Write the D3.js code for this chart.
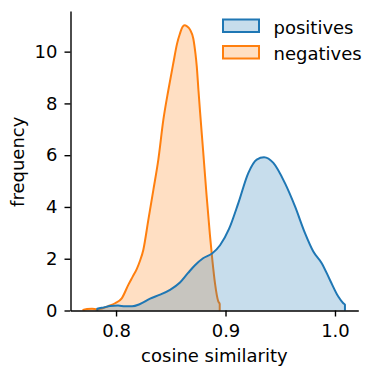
<!DOCTYPE html>
<html>
<head>
<meta charset="utf-8">
<script src="https://cdn.jsdelivr.net/npm/d3@7"></script>
<style>
  html, body { margin: 0; padding: 0; background: #fff; }
  svg { display: block; }
  text { font-family: "DejaVu Sans", sans-serif; fill: #000; }
</style>
</head>
<body>
<svg id="chart" width="373" height="371"></svg>
<script>
// ---- data ----
const seriesNames = ["positives", "negatives"];
const seriesColors = ["#1f77b4", "#ff7f0e"];

const positivesX = [0.7829, 0.7890, 0.7945, 0.8018, 0.8082, 0.8146, 0.8219, 0.8311, 0.8402, 0.8493,
  0.8584, 0.8658, 0.8721, 0.8795, 0.8877, 0.8950, 0.9032, 0.9117, 0.9208, 0.9285,
  0.9352, 0.9437, 0.9543, 0.9635, 0.9726, 0.9802, 0.9879, 0.9954, 1.0030, 1.0076, 1.0091];
const positivesY = [0.07, 0.12, 0.17, 0.19, 0.16, 0.16, 0.25, 0.46, 0.61, 0.80,
  1.08, 1.45, 1.75, 2.02, 2.20, 2.52, 3.15, 4.15, 5.31, 5.83,
  5.92, 5.70, 4.92, 4.02, 2.99, 2.28, 1.83, 1.18, 0.54, 0.28, 0.22];

const negativesX = [0.7701, 0.7735, 0.7781, 0.7826, 0.7872, 0.7930, 0.7991, 0.8052, 0.8112, 0.8151,
  0.8189, 0.8219, 0.8249, 0.8295, 0.8341, 0.8386, 0.8432, 0.8478, 0.8523, 0.8557,
  0.8584, 0.8607, 0.8626, 0.8648, 0.8676, 0.8706, 0.8726, 0.8737, 0.8753, 0.8767,
  0.8795, 0.8826, 0.8858, 0.8881, 0.8904, 0.8934, 0.8947];
const negativesY = [0.02, 0.06, 0.07, 0.05, 0.08, 0.17, 0.28, 0.47, 0.99, 1.30,
  1.60, 1.92, 2.34, 3.50, 4.66, 5.82, 7.36, 8.52, 9.55, 10.30,
  10.70, 10.95, 11.02, 10.98, 10.85, 10.50, 9.90, 9.45, 8.50, 7.70,
  6.20, 4.50, 2.90, 1.90, 1.05, 0.35, 0.25];

const xTicks = [0.8, 0.9, 1.0];
const yTicks = [0, 2, 4, 6, 8, 10];
const xLabel = "cosine similarity";
const yLabel = "frequency";

// ---- layout ----
const svg = d3.select("#chart");
const plotLeft = 70.5, plotRight = 358.3, plotTop = 11, plotBottom = 310.5;

const x = d3.scaleLinear().domain([0.7584, 1.0213]).range([plotLeft, plotRight]);
const y = d3.scaleLinear().domain([0, 11.57]).range([plotBottom, plotTop]);

const series = [
  { name: seriesNames[0], color: seriesColors[0], pts: positivesX.map((v, i) => [v, positivesY[i]]) },
  { name: seriesNames[1], color: seriesColors[1], pts: negativesX.map((v, i) => [v, negativesY[i]]) }
];

const area = d3.area()
  .x(d => x(d[0]))
  .y0(y(0))
  .y1(d => y(d[1]))
  .curve(d3.curveMonotoneX);
const line = d3.line().x(d => x(d[0])).y(d => y(d[1])).curve(d3.curveMonotoneX);

// drawn in reverse order (negatives first, positives on top), fill then outline
series.slice().reverse().forEach(s => {
  svg.append("path")
    .datum(s.pts)
    .attr("d", area)
    .attr("fill", s.color)
    .attr("fill-opacity", 0.25)
    .attr("stroke", "none");
  const first = s.pts[0], last = s.pts[s.pts.length - 1];
  const outline = [[first[0], 0]].concat(s.pts, [[last[0], 0]]);
  svg.append("path")
    .datum(outline)
    .attr("d", line)
    .attr("fill", "none")
    .attr("stroke", s.color)
    .attr("stroke-width", 2)
    .attr("stroke-linejoin", "round");
});

// ---- axes ----
const xAxis = d3.axisBottom(x).tickValues(xTicks).tickFormat(d3.format(".1f"))
  .tickSizeInner(6).tickSizeOuter(0).tickPadding(8);
const yAxis = d3.axisLeft(y).tickValues(yTicks).tickFormat(d3.format("d"))
  .tickSizeInner(6).tickSizeOuter(0).tickPadding(7);

const gx = svg.append("g").attr("transform", `translate(0,${plotBottom})`).call(xAxis);
const gy = svg.append("g").attr("transform", `translate(${plotLeft},0)`).call(yAxis);
[gx, gy].forEach(g => {
  g.selectAll("path.domain").attr("stroke", "#000").attr("stroke-width", 1.4);
  g.selectAll(".tick line").attr("stroke", "#000").attr("stroke-width", 1.4);
  g.selectAll(".tick text").attr("font-family", "DejaVu Sans").attr("font-size", 18).attr("fill", "#000");
});

// axis labels
svg.append("text")
  .attr("x", (plotLeft + plotRight) / 2)
  .attr("y", 361.5)
  .attr("text-anchor", "middle")
  .attr("font-size", 18)
  .text(xLabel);

svg.append("text")
  .attr("transform", `translate(24,${(plotTop + plotBottom) / 2 + 1}) rotate(-90)`)
  .attr("text-anchor", "middle")
  .attr("font-size", 18)
  .text(yLabel);

// ---- legend ----
const legend = svg.append("g");
series.forEach((s, i) => {
  const ly = 19.5 + i * 26.5;
  legend.append("rect")
    .attr("x", 223).attr("y", ly)
    .attr("width", 36).attr("height", 12.5)
    .attr("fill", s.color).attr("fill-opacity", 0.25)
    .attr("stroke", s.color).attr("stroke-width", 2);
  legend.append("text")
    .attr("x", 273.5).attr("y", ly + 14.3)
    .attr("font-size", 18)
    .text(s.name);
});
</script>
</body>
</html>
